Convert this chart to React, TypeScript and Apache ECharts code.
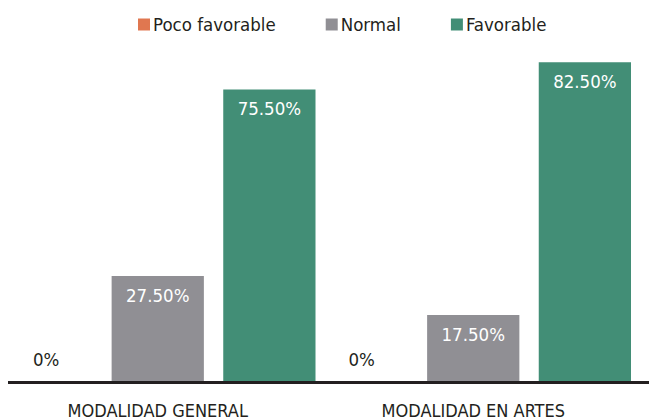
import React, { useEffect, useRef } from "react";
import * as echarts from "echarts";

const categories = ["MODALIDAD GENERAL", "MODALIDAD EN ARTES"];
const seriesNames = ["Poco favorable", "Normal", "Favorable"];
const pocoFavorable = [0, 0];
const normal = [27.5, 17.5];
const favorable = [75.5, 82.5];
const colors = ["#E07750", "#908F94", "#428E76"];

const FONT = "'DejaVu Sans Condensed', 'Liberation Sans Narrow', 'Roboto', sans-serif";

export default function App() {
  const ref = useRef<HTMLDivElement>(null);
  useEffect(() => {
    if (!ref.current) return;
    const chart = echarts.init(ref.current, undefined, { renderer: "svg" });
    const fmt = (p: any) => `${Number(p.value).toFixed(p.value === 0 ? 0 : 2)}%`;
    const data = [pocoFavorable, normal, favorable];
    chart.setOption({
      animation: false,
      textStyle: { fontFamily: FONT },
      legend: {
        top: 10,
        left: 133,
        itemWidth: 12,
        itemHeight: 12,
        itemGap: 50,
        icon: "rect",
        data: seriesNames,
        textStyle: { fontFamily: FONT, fontSize: 18.5, color: "#231F20", padding: [0, 0, 0, -2] },
      },
      grid: { left: 0, right: 18, top: 33, bottom: 36 },
      xAxis: {
        type: "category",
        data: categories,
        axisLine: { show: false },
        axisTick: { show: false },
        axisLabel: { fontFamily: FONT, fontSize: 18, color: "#231F20", margin: 18 },
      },
      yAxis: {
        type: "value",
        min: 0,
        max: 90,
        show: false,
        splitLine: { show: false },
      },
      graphic: [
        {
          type: "line",
          shape: { x1: 8, y1: 382.5, x2: 649, y2: 382.5 },
          style: { stroke: "#231F20", lineWidth: 3 },
          z: 10,
        },
      ],
      series: seriesNames.map((name, i) => ({
        name,
        type: "bar",
        data: data[i],
        barCategoryGap: "0%",
        barGap: "21%",
        itemStyle: { color: colors[i] },
        label: {
          show: true,
          formatter: fmt,
          position: i === 0 ? "top" : "insideTop",
          distance: i === 0 ? 14 : 10,
          color: i === 0 ? "#231F20" : "#FFFFFF",
          fontFamily: FONT,
          fontSize: 18.5,
        },
      })),
    });
    return () => chart.dispose();
  }, []);
  return (
    <div
      ref={ref}
      style={{ position: "fixed", left: 0, top: 0, width: 649, height: 419, background: "#fff" }}
    />
  );
}
